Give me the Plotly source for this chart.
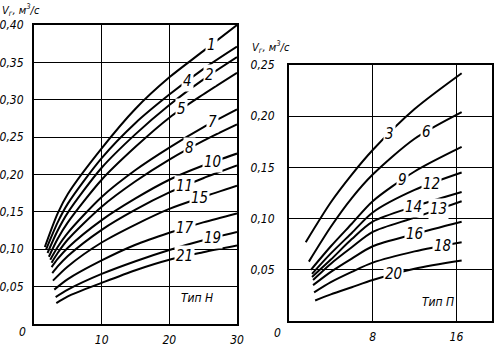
import numpy as np
import plotly.graph_objects as go

# ---------------- data: left panel (Тип Н) ----------------
LEFT_NAMES = ["1", "4", "2", "5", "7", "8", "10", "11", "15", "17", "19", "21"]
LEFT_X = [
    [1.6, 3.5, 5, 10, 15, 20, 25, 30],
    [1.8, 3.5, 5, 10, 15, 20, 25, 30],
    [2.0, 3.5, 5, 10, 15, 20, 25, 30],
    [2.2, 3.5, 5, 10, 15, 20, 25, 30],
    [2.4, 3.5, 5, 10, 15, 20, 25, 30],
    [2.6, 3.5, 5, 10, 15, 20, 25, 30],
    [2.6, 3.5, 5, 10, 15, 20, 25, 30],
    [2.7, 3.5, 5, 10, 15, 20, 25, 30],
    [2.8, 5, 10, 15, 20, 25, 30],
    [3.0, 5, 10, 15, 20, 25, 30],
    [3.2, 5, 10, 15, 20, 25, 30],
    [3.3, 5, 10, 15, 20, 25, 30],
]
LEFT_Y = [
    [0.103, 0.148, 0.174, 0.235, 0.288, 0.330, 0.365, 0.400],
    [0.100, 0.136, 0.161, 0.222, 0.269, 0.307, 0.341, 0.371],
    [0.095, 0.125, 0.149, 0.209, 0.254, 0.293, 0.327, 0.357],
    [0.090, 0.114, 0.136, 0.193, 0.237, 0.276, 0.307, 0.336],
    [0.086, 0.103, 0.122, 0.170, 0.206, 0.236, 0.263, 0.287],
    [0.082, 0.095, 0.113, 0.157, 0.191, 0.220, 0.245, 0.267],
    [0.076, 0.087, 0.102, 0.139, 0.168, 0.193, 0.212, 0.228],
    [0.068, 0.077, 0.091, 0.126, 0.153, 0.176, 0.195, 0.212],
    [0.058, 0.077, 0.109, 0.133, 0.154, 0.170, 0.185],
    [0.046, 0.060, 0.085, 0.106, 0.122, 0.136, 0.148],
    [0.036, 0.046, 0.067, 0.084, 0.099, 0.112, 0.123],
    [0.028, 0.037, 0.055, 0.072, 0.086, 0.096, 0.105],
]
LEFT_LABEL_X = [26.2, 22.7, 26.0, 21.8, 26.4, 23.0, 26.4, 22.3, 24.5, 22.3, 26.4, 22.3]

# ---------------- data: right panel (Тип П) ----------------
RIGHT_NAMES = ["3", "6", "9", "12", "14", "13", "16", "18", "20"]
RIGHT_X = [
    [1.6, 4, 6, 8, 12, 16.5],
    [1.9, 4, 6, 8, 12, 16.5],
    [2.1, 4, 6, 8, 12, 16.5],
    [2.2, 4, 6, 8, 12, 16.5],
    [2.2, 4, 6, 8, 12, 16.5],
    [2.3, 4, 6, 8, 12, 16.5],
    [2.3, 4, 6, 8, 12, 16.5],
    [2.4, 4, 6, 8, 12, 16.5],
    [2.5, 4, 6, 8, 12, 16.5],
]
RIGHT_Y = [
    [0.077, 0.116, 0.143, 0.167, 0.207, 0.242],
    [0.058, 0.092, 0.120, 0.143, 0.178, 0.204],
    [0.050, 0.073, 0.095, 0.117, 0.146, 0.170],
    [0.046, 0.066, 0.086, 0.106, 0.128, 0.145],
    [0.043, 0.060, 0.080, 0.097, 0.112, 0.126],
    [0.040, 0.056, 0.072, 0.087, 0.101, 0.117],
    [0.035, 0.048, 0.061, 0.073, 0.085, 0.097],
    [0.028, 0.038, 0.048, 0.057, 0.068, 0.077],
    [0.020, 0.026, 0.033, 0.040, 0.051, 0.059],
]
RIGHT_LABEL_X = [9.6, 13.1, 10.8, 13.6, 11.9, 14.3, 12.0, 14.7, 10.0]

LEFT_XTICKS = [10, 20, 30]
LEFT_YTICKS = [0.05, 0.10, 0.15, 0.20, 0.25, 0.30, 0.35, 0.40]
RIGHT_XTICKS = [8, 16]
RIGHT_YTICKS = [0.05, 0.10, 0.15, 0.20, 0.25]

W, H = 494, 352
FONT = "DejaVu Sans Condensed, Liberation Sans Narrow, DejaVu Sans, sans-serif"


def px_x(p):
    return p / W


def px_y(p):
    return (H - p) / H


fig = go.Figure()
lblfont = dict(size=15, color="black", family=FONT, style="italic")

annotations = []
for name, xs, ys, lx in zip(LEFT_NAMES, LEFT_X, LEFT_Y, LEFT_LABEL_X):
    fig.add_trace(go.Scatter(x=xs, y=ys, mode="lines", xaxis="x", yaxis="y",
                             line=dict(color="black", width=2, shape="spline", smoothing=0.8),
                             showlegend=False, hoverinfo="skip"))
    annotations.append(dict(x=lx, y=float(np.interp(lx, xs, ys)), xref="x", yref="y",
                            text=name, showarrow=False, bgcolor="white", borderpad=1,
                            font=lblfont))

for name, xs, ys, lx in zip(RIGHT_NAMES, RIGHT_X, RIGHT_Y, RIGHT_LABEL_X):
    fig.add_trace(go.Scatter(x=xs, y=ys, mode="lines", xaxis="x2", yaxis="y2",
                             line=dict(color="black", width=2, shape="spline", smoothing=0.8),
                             showlegend=False, hoverinfo="skip"))
    annotations.append(dict(x=lx, y=float(np.interp(lx, xs, ys)), xref="x2", yref="y2",
                            text=name, showarrow=False, bgcolor="white", borderpad=1,
                            font=lblfont))

txtfont = dict(size=12, color="black", family=FONT, style="italic")
titlefont = dict(size=11, color="black", family=FONT, style="italic")
annotations += [
    dict(x=px_x(0), y=px_y(0), xref="paper", yref="paper", xanchor="left", yanchor="top",
         text="V<sub>г</sub>, м<sup>3</sup>/с", showarrow=False, font=titlefont),
    dict(x=px_x(250), y=px_y(37), xref="paper", yref="paper", xanchor="left", yanchor="top",
         text="V<sub>г</sub>, м<sup>3</sup>/с", showarrow=False, font=titlefont),
    dict(x=px_x(17), y=px_y(341), xref="paper", yref="paper",
         text="0", showarrow=False, font=txtfont),
    dict(x=px_x(277), y=px_y(342), xref="paper", yref="paper",
         text="0", showarrow=False, font=txtfont),
    dict(x=px_x(197), y=px_y(307), xref="paper", yref="paper",
         text="Тип Н", showarrow=False, font=txtfont),
    dict(x=px_x(456), y=px_y(311), xref="paper", yref="paper",
         text="Тип П", showarrow=False, font=txtfont),
]

axis_common = dict(showline=True, linecolor="black", linewidth=2, mirror=True,
                   showgrid=True, gridcolor="black", gridwidth=1.3, zeroline=False,
                   ticks="", tickfont=txtfont, automargin=False, fixedrange=True)

fig.update_layout(
    width=W, height=H, margin=dict(l=0, r=0, t=0, b=0),
    paper_bgcolor="white", plot_bgcolor="white", template="none",
    separators=", ",
    xaxis=dict(domain=[px_x(34), px_x(237)], range=[0, 30], tickvals=LEFT_XTICKS,
               anchor="y", ticklabelstandoff=4, **axis_common),
    yaxis=dict(domain=[px_y(324), px_y(25)], range=[0, 0.40], tickvals=LEFT_YTICKS,
               tickformat=".2f", anchor="x", ticklabelstandoff=6, **axis_common),
    xaxis2=dict(domain=[px_x(289), px_x(492)], range=[0, 19.4], tickvals=RIGHT_XTICKS,
                anchor="y2", ticklabelstandoff=4, **axis_common),
    yaxis2=dict(domain=[px_y(321), px_y(65)], range=[0, 0.25], tickvals=RIGHT_YTICKS,
                tickformat=".2f", anchor="x2", ticklabelstandoff=10, **axis_common),
    annotations=annotations,
)

fig.write_html("out.html")
